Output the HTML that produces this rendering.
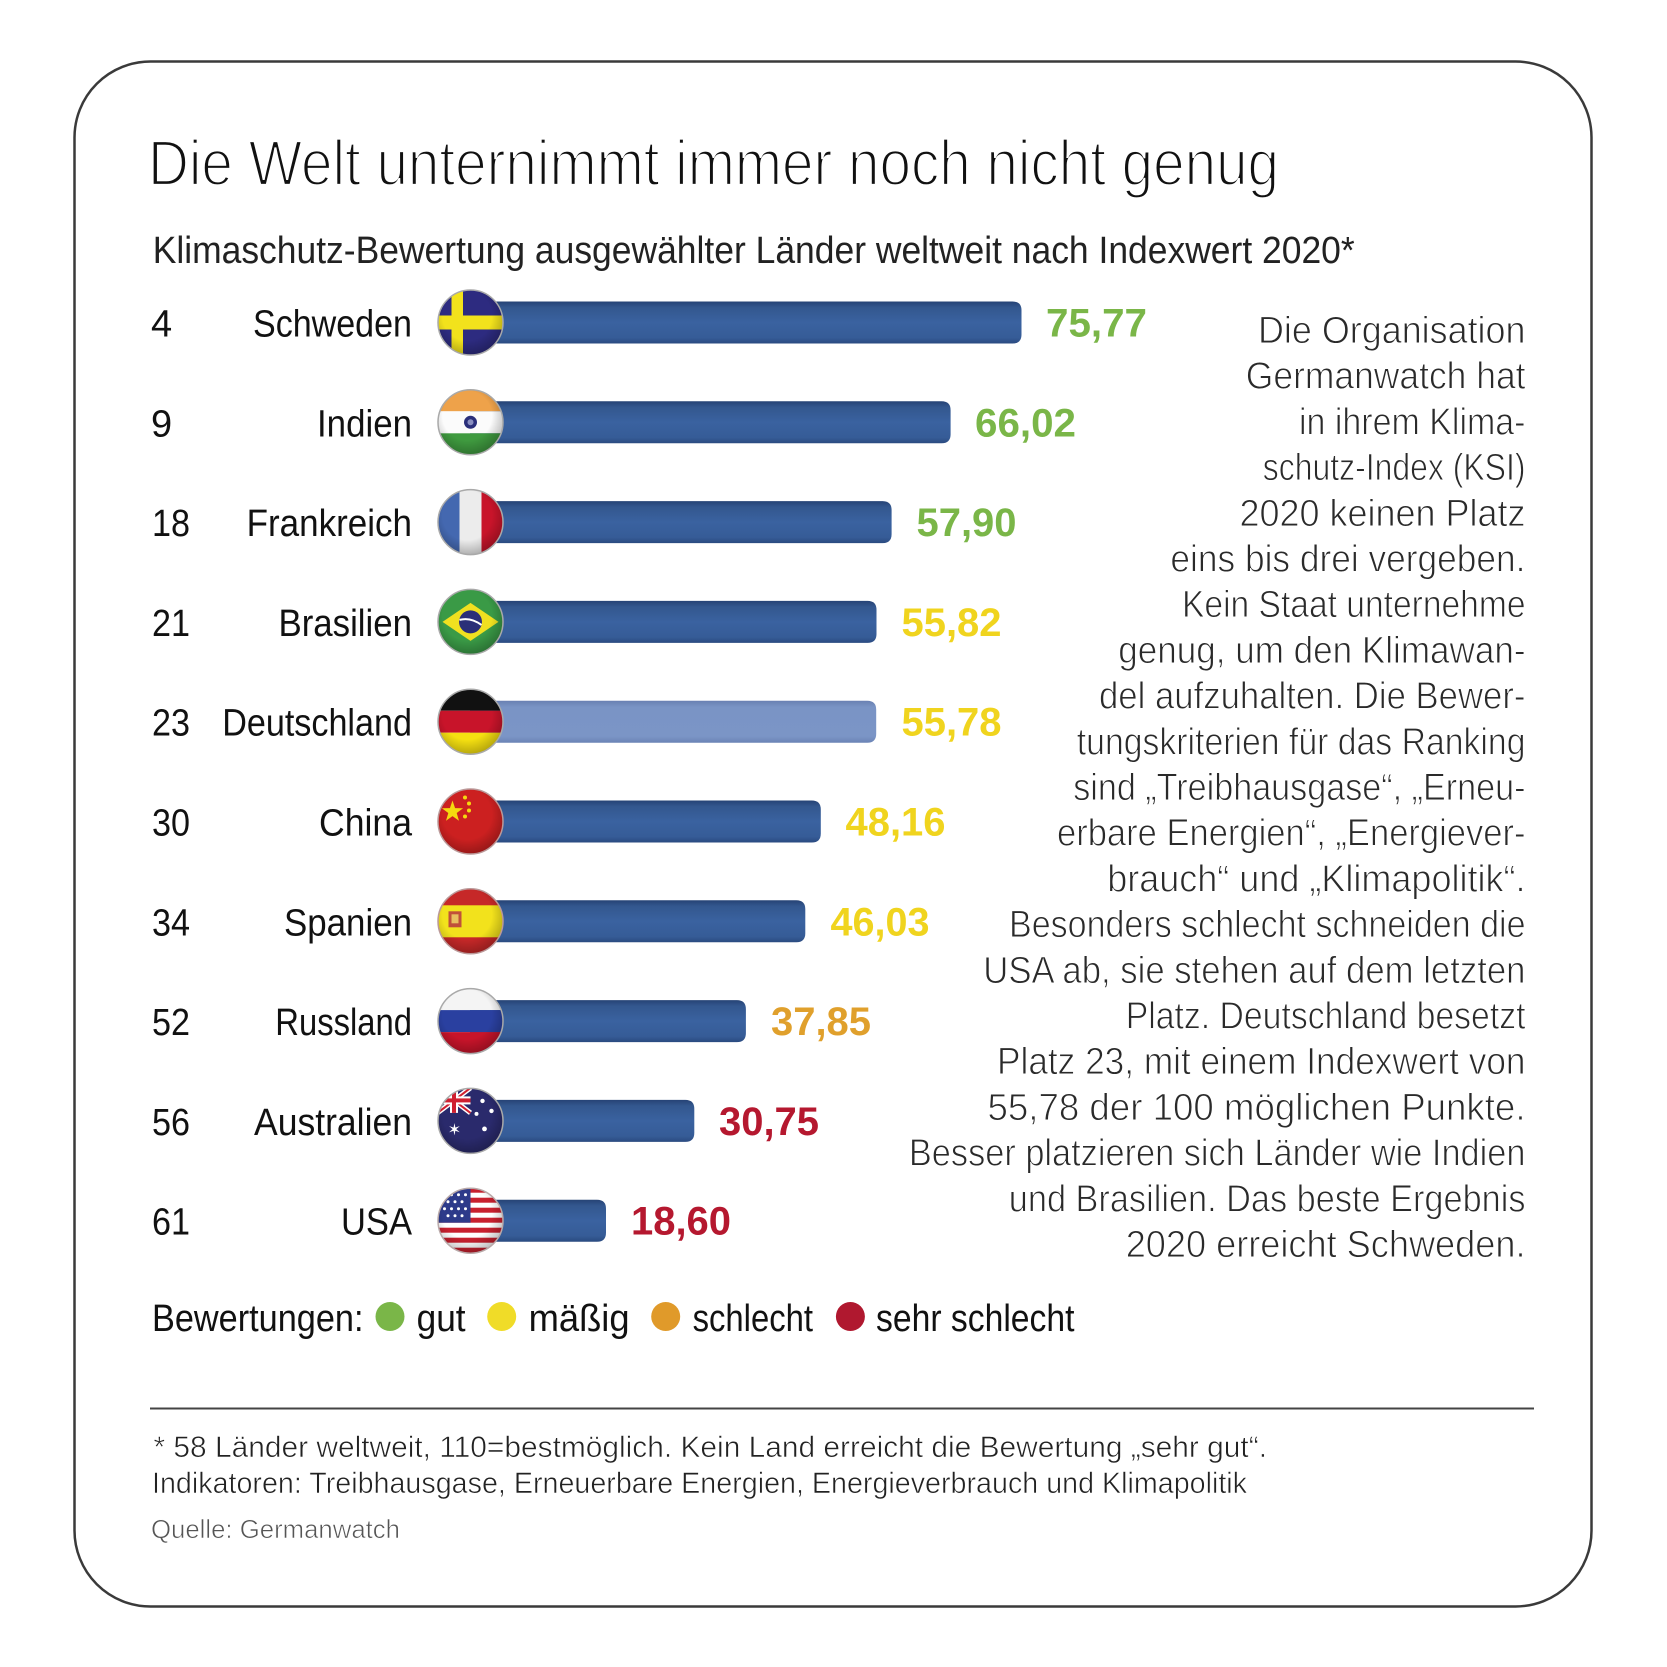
<!DOCTYPE html>
<html><head><meta charset="utf-8"><style>
html,body{margin:0;padding:0;background:#fff;}
svg{display:block;}
text{font-family:"Liberation Sans",sans-serif;}
</style></head><body>
<svg width="1667" height="1667" viewBox="0 0 1667 1667" xmlns="http://www.w3.org/2000/svg">
<defs>
<linearGradient id="bar" x1="0" y1="0" x2="0" y2="1">
<stop offset="0" stop-color="#264375"/><stop offset="0.14" stop-color="#33578e"/><stop offset="0.5" stop-color="#3a62a0"/><stop offset="0.86" stop-color="#365c97"/><stop offset="1" stop-color="#2a4a80"/>
</linearGradient>
<linearGradient id="barDE" x1="0" y1="0" x2="0" y2="1">
<stop offset="0" stop-color="#6980b2"/><stop offset="0.15" stop-color="#7a94c5"/><stop offset="0.85" stop-color="#7b95c6"/><stop offset="1" stop-color="#6a83b5"/>
</linearGradient>
<radialGradient id="shade" cx="0.45" cy="0.4" r="0.62">
<stop offset="0.6" stop-color="#000" stop-opacity="0"/><stop offset="1" stop-color="#000" stop-opacity="0.28"/>
</radialGradient>
<clipPath id="fc"><circle cx="0" cy="0" r="32.5"/></clipPath>
</defs>
<rect x="0" y="0" width="1667" height="1667" fill="#fff"/>
<rect x="74.5" y="61.5" width="1517" height="1545" rx="76" ry="76" fill="none" stroke="#3a3a3a" stroke-width="2.5"/>

<text x="148" y="185" font-size="64" fill="#111" stroke="#fff" stroke-width="2.2" textLength="1131" lengthAdjust="spacingAndGlyphs">Die Welt unternimmt immer noch nicht genug</text>
<text x="152.7" y="263" font-size="38" fill="#222" textLength="1202" lengthAdjust="spacingAndGlyphs">Klimaschutz-Bewertung ausgewählter Länder weltweit nach Indexwert 2020*</text>

<!-- bars -->
<path d="M470,301.5 H1012.5 Q1021.5,301.5 1021.5,310.5 V334.5 Q1021.5,343.5 1012.5,343.5 H470 Z" fill="url(#bar)"/>
<path d="M470,401.3 H941.6 Q950.6,401.3 950.6,410.3 V434.3 Q950.6,443.3 941.6,443.3 H470 Z" fill="url(#bar)"/>
<path d="M470,501.1 H882.6 Q891.6,501.1 891.6,510.1 V534.1 Q891.6,543.1 882.6,543.1 H470 Z" fill="url(#bar)"/>
<path d="M470,600.9 H867.5 Q876.5,600.9 876.5,609.9 V633.9 Q876.5,642.9 867.5,642.9 H470 Z" fill="url(#bar)"/>
<path d="M470,700.7 H867.2 Q876.2,700.7 876.2,709.7 V733.7 Q876.2,742.7 867.2,742.7 H470 Z" fill="url(#barDE)"/>
<path d="M470,800.5 H811.8 Q820.8,800.5 820.8,809.5 V833.5 Q820.8,842.5 811.8,842.5 H470 Z" fill="url(#bar)"/>
<path d="M470,900.3 H796.3 Q805.3,900.3 805.3,909.3 V933.3 Q805.3,942.3 796.3,942.3 H470 Z" fill="url(#bar)"/>
<path d="M470,1000.1 H736.9 Q745.9,1000.1 745.9,1009.1 V1033.1 Q745.9,1042.1 736.9,1042.1 H470 Z" fill="url(#bar)"/>
<path d="M470,1099.9 H685.3 Q694.3,1099.9 694.3,1108.9 V1132.9 Q694.3,1141.9 685.3,1141.9 H470 Z" fill="url(#bar)"/>
<path d="M470,1199.7 H597 Q606,1199.7 606,1208.7 V1232.7 Q606,1241.7 597,1241.7 H470 Z" fill="url(#bar)"/>

<!-- flags -->
<g transform="translate(470.5,322.5)"><g clip-path="url(#fc)">
<rect x="-33" y="-33" width="66" height="66" fill="#2d2b80"/>
<rect x="-19" y="-33" width="11.5" height="66" fill="#f2e21c"/>
<rect x="-33" y="-7" width="66" height="14" fill="#f2e21c"/>
<rect x="-33" y="-33" width="66" height="66" fill="url(#shade)"/></g>
<circle r="32.5" fill="none" stroke="#a9a9a9" stroke-width="1.5"/></g>
<g transform="translate(470.5,422.3)"><g clip-path="url(#fc)">
<rect x="-33" y="-33" width="66" height="22" fill="#eea24a"/>
<rect x="-33" y="-11" width="66" height="22" fill="#fbfbfb"/>
<rect x="-33" y="11" width="66" height="22" fill="#3f9a3f"/>
<circle r="6.5" fill="#2a2f7a"/><circle r="3" fill="#8a8fc0"/>
<rect x="-33" y="-33" width="66" height="66" fill="url(#shade)"/></g>
<circle r="32.5" fill="none" stroke="#a9a9a9" stroke-width="1.5"/></g>
<g transform="translate(470.5,522.1)"><g clip-path="url(#fc)">
<rect x="-33" y="-33" width="22" height="66" fill="#4468b0"/>
<rect x="-11" y="-33" width="22" height="66" fill="#ececec"/>
<rect x="11" y="-33" width="22" height="66" fill="#c8142a"/>
<rect x="-33" y="-33" width="66" height="66" fill="url(#shade)"/></g>
<circle r="32.5" fill="none" stroke="#a9a9a9" stroke-width="1.5"/></g>
<g transform="translate(470.5,621.9)"><g clip-path="url(#fc)">
<rect x="-33" y="-33" width="66" height="66" fill="#3a9a46"/>
<polygon points="-28,0 0,-19 28,0 0,19" fill="#f0e020"/>
<circle r="11.5" fill="#2b2f78"/>
<path d="M-11,-2 Q0,-5 11,3" stroke="#fff" stroke-width="2" fill="none"/>
<rect x="-33" y="-33" width="66" height="66" fill="url(#shade)"/></g>
<circle r="32.5" fill="none" stroke="#a9a9a9" stroke-width="1.5"/></g>
<g transform="translate(470.5,721.7)"><g clip-path="url(#fc)">
<rect x="-33" y="-33" width="66" height="22" fill="#111"/>
<rect x="-33" y="-11" width="66" height="22" fill="#c8142a"/>
<rect x="-33" y="11" width="66" height="22" fill="#f5e011"/>
<rect x="-33" y="-33" width="66" height="66" fill="url(#shade)"/></g>
<circle r="32.5" fill="none" stroke="#a9a9a9" stroke-width="1.5"/></g>
<g transform="translate(470.5,821.5)"><g clip-path="url(#fc)">
<rect x="-33" y="-33" width="66" height="66" fill="#cc2020"/>
<polygon points="-18,-21 -15.4,-13.4 -7.4,-13.3 -13.8,-8.5 -11.5,-0.8 -18,-5.4 -24.5,-0.8 -22.2,-8.5 -28.6,-13.3 -20.6,-13.4" fill="#f5d90f"/>
<circle cx="-5.5" cy="-24" r="2" fill="#f5d90f"/><circle cx="-1.5" cy="-18" r="2" fill="#f5d90f"/>
<circle cx="-1.5" cy="-11" r="2" fill="#f5d90f"/><circle cx="-5.5" cy="-5" r="2" fill="#f5d90f"/>
<rect x="-33" y="-33" width="66" height="66" fill="url(#shade)"/></g>
<circle r="32.5" fill="none" stroke="#b99" stroke-width="1.5"/></g>
<g transform="translate(470.5,921.3)"><g clip-path="url(#fc)">
<rect x="-33" y="-33" width="66" height="66" fill="#c62828"/>
<rect x="-33" y="-16" width="66" height="32" fill="#f2e21c"/>
<rect x="-22" y="-10" width="13" height="16" fill="#c0503a"/>
<rect x="-19" y="-7" width="7" height="9" fill="#e8c060"/>
<rect x="-33" y="-33" width="66" height="66" fill="url(#shade)"/></g>
<circle r="32.5" fill="none" stroke="#b99" stroke-width="1.5"/></g>
<g transform="translate(470.5,1021.1)"><g clip-path="url(#fc)">
<rect x="-33" y="-33" width="66" height="22" fill="#f4f4f4"/>
<rect x="-33" y="-11" width="66" height="22" fill="#2a40a0"/>
<rect x="-33" y="11" width="66" height="22" fill="#c8142a"/>
<rect x="-33" y="-33" width="66" height="66" fill="url(#shade)"/></g>
<circle r="32.5" fill="none" stroke="#a9a9a9" stroke-width="1.5"/></g>
<g transform="translate(470.5,1120.9)"><g clip-path="url(#fc)">
<rect x="-33" y="-33" width="66" height="66" fill="#2a2a6c"/>
<g>
<path d="M-33,-33 L0,-8 M0,-33 L-33,-8" stroke="#fff" stroke-width="5"/>
<path d="M-33,-33 L0,-8 M0,-33 L-33,-8" stroke="#d02030" stroke-width="2"/>
<rect x="-33" y="-24.5" width="33" height="8" fill="#fff"/>
<rect x="-20.5" y="-33" width="8" height="25" fill="#fff"/>
<rect x="-33" y="-22.5" width="33" height="4" fill="#d02030"/>
<rect x="-18.5" y="-33" width="4" height="25" fill="#d02030"/>
</g>
<text x="-16" y="14" font-size="16" fill="#fff" text-anchor="middle">✶</text>
<circle cx="12" cy="-20" r="2.2" fill="#fff"/><circle cx="21" cy="-10" r="2.2" fill="#fff"/>
<circle cx="6" cy="-7" r="2" fill="#fff"/><circle cx="14" cy="8" r="2.4" fill="#fff"/>
<rect x="-33" y="-33" width="66" height="66" fill="url(#shade)"/></g>
<circle r="32.5" fill="none" stroke="#a9a9a9" stroke-width="1.5"/></g>
<g transform="translate(470.5,1220.7)"><g clip-path="url(#fc)">
<rect x="-33" y="-33" width="66" height="66" fill="#fff"/>
<rect x="-33" y="-33" width="66" height="5" fill="#c8202e"/>
<rect x="-33" y="-23" width="66" height="5" fill="#c8202e"/>
<rect x="-33" y="-13" width="66" height="5" fill="#c8202e"/>
<rect x="-33" y="-3" width="66" height="5" fill="#c8202e"/>
<rect x="-33" y="7" width="66" height="5" fill="#c8202e"/>
<rect x="-33" y="17" width="66" height="5" fill="#c8202e"/>
<rect x="-33" y="27" width="66" height="6" fill="#c8202e"/>
<rect x="-33" y="-33" width="33" height="35" fill="#2d3a8a"/>
<g fill="#fff">
<circle cx="-26" cy="-26" r="1.5"/><circle cx="-19" cy="-26" r="1.5"/><circle cx="-12" cy="-26" r="1.5"/><circle cx="-5" cy="-26" r="1.5"/>
<circle cx="-22.5" cy="-19" r="1.5"/><circle cx="-15.5" cy="-19" r="1.5"/><circle cx="-8.5" cy="-19" r="1.5"/>
<circle cx="-26" cy="-12" r="1.5"/><circle cx="-19" cy="-12" r="1.5"/><circle cx="-12" cy="-12" r="1.5"/><circle cx="-5" cy="-12" r="1.5"/>
<circle cx="-22.5" cy="-5" r="1.5"/><circle cx="-15.5" cy="-5" r="1.5"/><circle cx="-8.5" cy="-5" r="1.5"/>
</g>
<rect x="-33" y="-33" width="66" height="66" fill="url(#shade)"/></g>
<circle r="32.5" fill="none" stroke="#b9a9a9" stroke-width="1.5"/></g>

<!-- rank numbers -->
<g font-size="38" fill="#111">
<text x="151" y="336.5">4</text>
<text x="151" y="436.3">9</text>
<text x="152" y="536.1" textLength="38" lengthAdjust="spacingAndGlyphs">18</text>
<text x="152" y="635.9" textLength="38" lengthAdjust="spacingAndGlyphs">21</text>
<text x="152" y="735.7" textLength="38" lengthAdjust="spacingAndGlyphs">23</text>
<text x="152" y="835.5" textLength="38" lengthAdjust="spacingAndGlyphs">30</text>
<text x="152" y="935.3" textLength="38" lengthAdjust="spacingAndGlyphs">34</text>
<text x="152" y="1035.1" textLength="38" lengthAdjust="spacingAndGlyphs">52</text>
<text x="152" y="1134.9" textLength="38" lengthAdjust="spacingAndGlyphs">56</text>
<text x="152" y="1234.7" textLength="38" lengthAdjust="spacingAndGlyphs">61</text>
</g>
<!-- country names -->
<g font-size="38" fill="#111">
<text x="253" y="336.5" textLength="159" lengthAdjust="spacingAndGlyphs">Schweden</text>
<text x="317" y="436.3" textLength="95" lengthAdjust="spacingAndGlyphs">Indien</text>
<text x="246.6" y="536.1" textLength="165.4" lengthAdjust="spacingAndGlyphs">Frankreich</text>
<text x="278.5" y="635.9" textLength="133.5" lengthAdjust="spacingAndGlyphs">Brasilien</text>
<text x="222.2" y="735.7" textLength="189.8" lengthAdjust="spacingAndGlyphs">Deutschland</text>
<text x="319" y="835.5" textLength="93" lengthAdjust="spacingAndGlyphs">China</text>
<text x="284" y="935.3" textLength="128" lengthAdjust="spacingAndGlyphs">Spanien</text>
<text x="275.3" y="1035.1" textLength="136.7" lengthAdjust="spacingAndGlyphs">Russland</text>
<text x="254" y="1134.9" textLength="158" lengthAdjust="spacingAndGlyphs">Australien</text>
<text x="341" y="1234.7" textLength="71" lengthAdjust="spacingAndGlyphs">USA</text>
</g>
<!-- values -->
<g font-size="40" font-weight="bold">
<text x="1046" y="336.5" fill="#7ab648" textLength="101" lengthAdjust="spacingAndGlyphs">75,77</text>
<text x="975" y="436.3" fill="#7ab648" textLength="101" lengthAdjust="spacingAndGlyphs">66,02</text>
<text x="916.5" y="536.1" fill="#7ab648" textLength="100" lengthAdjust="spacingAndGlyphs">57,90</text>
<text x="901.5" y="635.9" fill="#f0d41e" textLength="100" lengthAdjust="spacingAndGlyphs">55,82</text>
<text x="901.5" y="735.7" fill="#f0d41e" textLength="100" lengthAdjust="spacingAndGlyphs">55,78</text>
<text x="845.5" y="835.5" fill="#f0d41e" textLength="100" lengthAdjust="spacingAndGlyphs">48,16</text>
<text x="830.5" y="935.3" fill="#f0d41e" textLength="99" lengthAdjust="spacingAndGlyphs">46,03</text>
<text x="771" y="1035.1" fill="#e0a02c" textLength="100" lengthAdjust="spacingAndGlyphs">37,85</text>
<text x="719" y="1134.9" fill="#b5182f" textLength="100" lengthAdjust="spacingAndGlyphs">30,75</text>
<text x="631" y="1234.7" fill="#b5182f" textLength="100" lengthAdjust="spacingAndGlyphs">18,60</text>
</g>

<!-- paragraph -->
<g font-size="38" fill="#2a2a2a" stroke="#fff" stroke-width="0.9">
<text x="1258" y="343" textLength="267.5" lengthAdjust="spacingAndGlyphs">Die Organisation</text>
<text x="1245.8" y="388.7" textLength="279.7" lengthAdjust="spacingAndGlyphs">Germanwatch hat</text>
<text x="1299" y="434.4" textLength="226.5" lengthAdjust="spacingAndGlyphs">in ihrem Klima-</text>
<text x="1262.8" y="480.1" textLength="262.7" lengthAdjust="spacingAndGlyphs">schutz-Index (KSI)</text>
<text x="1239.5" y="525.8" textLength="286" lengthAdjust="spacingAndGlyphs">2020 keinen Platz</text>
<text x="1170.4" y="571.5" textLength="355.1" lengthAdjust="spacingAndGlyphs">eins bis drei vergeben.</text>
<text x="1182" y="617.2" textLength="343.5" lengthAdjust="spacingAndGlyphs">Kein Staat unternehme</text>
<text x="1118.3" y="662.9" textLength="407.2" lengthAdjust="spacingAndGlyphs">genug, um den Klimawan-</text>
<text x="1099" y="708.6" textLength="426.5" lengthAdjust="spacingAndGlyphs">del aufzuhalten. Die Bewer-</text>
<text x="1076.8" y="754.3" textLength="448.7" lengthAdjust="spacingAndGlyphs">tungskriterien für das Ranking</text>
<text x="1073.2" y="800" textLength="452.3" lengthAdjust="spacingAndGlyphs">sind „Treibhausgase“, „Erneu-</text>
<text x="1057" y="845.7" textLength="468.5" lengthAdjust="spacingAndGlyphs">erbare Energien“, „Energiever-</text>
<text x="1107.2" y="891.4" textLength="418.3" lengthAdjust="spacingAndGlyphs">brauch“ und „Klimapolitik“.</text>
<text x="1009" y="937.1" textLength="516.5" lengthAdjust="spacingAndGlyphs">Besonders schlecht schneiden die</text>
<text x="983.3" y="982.8" textLength="542.2" lengthAdjust="spacingAndGlyphs">USA ab, sie stehen auf dem letzten</text>
<text x="1125.7" y="1028.5" textLength="399.8" lengthAdjust="spacingAndGlyphs">Platz. Deutschland besetzt</text>
<text x="997" y="1074.2" textLength="528.5" lengthAdjust="spacingAndGlyphs">Platz 23, mit einem Indexwert von</text>
<text x="987.5" y="1119.9" textLength="538" lengthAdjust="spacingAndGlyphs">55,78 der 100 möglichen Punkte.</text>
<text x="908.9" y="1165.6" textLength="616.6" lengthAdjust="spacingAndGlyphs">Besser platzieren sich Länder wie Indien</text>
<text x="1008.8" y="1211.3" textLength="516.7" lengthAdjust="spacingAndGlyphs">und Brasilien. Das beste Ergebnis</text>
<text x="1125.7" y="1257" textLength="399.8" lengthAdjust="spacingAndGlyphs">2020 erreicht Schweden.</text>
</g>

<!-- legend -->
<g font-size="38" fill="#111">
<text x="152" y="1331" textLength="211.5" lengthAdjust="spacingAndGlyphs">Bewertungen:</text>
<circle cx="390" cy="1316.5" r="14.5" fill="#7ab648"/>
<text x="416.6" y="1331" textLength="49" lengthAdjust="spacingAndGlyphs">gut</text>
<circle cx="501.7" cy="1316.5" r="14.5" fill="#f0dc28"/>
<text x="528.6" y="1331" textLength="101" lengthAdjust="spacingAndGlyphs">mäßig</text>
<circle cx="665.7" cy="1316.5" r="14.5" fill="#e09a2a"/>
<text x="692.6" y="1331" textLength="120.4" lengthAdjust="spacingAndGlyphs">schlecht</text>
<circle cx="850.4" cy="1316.5" r="14.5" fill="#b0182f"/>
<text x="876" y="1331" textLength="198.5" lengthAdjust="spacingAndGlyphs">sehr schlecht</text>
</g>

<line x1="150" y1="1408.5" x2="1534" y2="1408.5" stroke="#444" stroke-width="2"/>

<g stroke="#fff" stroke-width="0.6">
<text x="153.5" y="1457" font-size="30" fill="#222" textLength="1113.5" lengthAdjust="spacingAndGlyphs">* 58 Länder weltweit, 110=bestmöglich. Kein Land erreicht die Bewertung „sehr gut“.</text>
<text x="152" y="1493" font-size="30" fill="#222" textLength="1095" lengthAdjust="spacingAndGlyphs">Indikatoren: Treibhausgase, Erneuerbare Energien, Energieverbrauch und Klimapolitik</text>
<text x="151" y="1538" font-size="26" fill="#555" textLength="249" lengthAdjust="spacingAndGlyphs">Quelle: Germanwatch</text>
</g>
</svg>
</body></html>
